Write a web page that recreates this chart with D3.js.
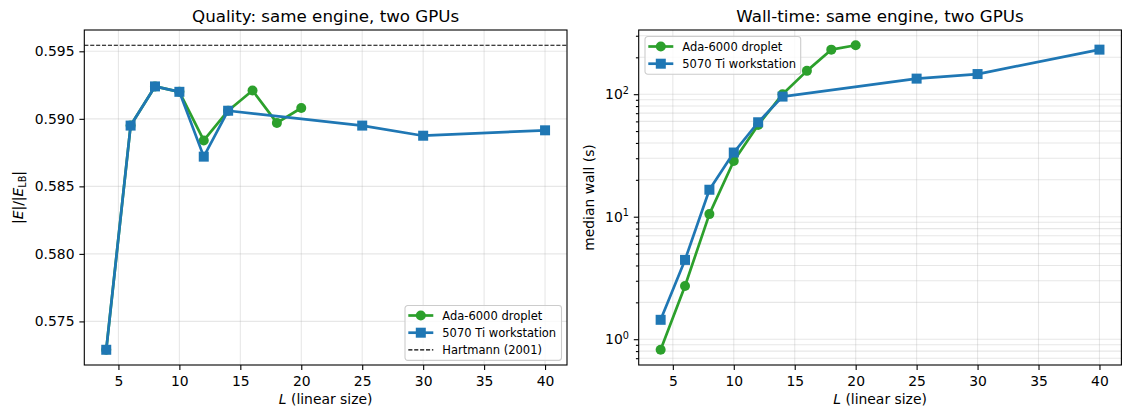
<!DOCTYPE html>
<html>
<head>
<meta charset="utf-8">
<script src="https://cdn.jsdelivr.net/npm/d3@7"></script>
<style>
  body { margin: 0; background: #fff; }
  svg { display: block; font-family: "DejaVu Sans", sans-serif; }
</style>
</head>
<body>
<div class="wrapper"></div>
<script>
// values
const sizesAda = [4, 6, 8, 10, 12, 14, 16, 18, 20];
const qualityAda = [0.5729, 0.5895, 0.5924, 0.5920, 0.5884, 0.5906, 0.5921, 0.5897, 0.5908];
const wallAda = [0.82, 2.72, 10.5, 28.5, 56, 100, 155, 231, 251];

const sizesWs = [4, 6, 8, 10, 12, 14, 25, 30, 40];
const qualityWs = [0.5729, 0.5895, 0.5924, 0.5920, 0.5872, 0.5906, 0.5895, 0.58875, 0.58915];
const wallWs = [1.44, 4.44, 16.6, 33.4, 59, 95.6, 134, 146, 231];

const hartmann = 0.59545;

const xTicks = [5, 10, 15, 20, 25, 30, 35, 40];
const qualityTicks = [0.575, 0.580, 0.585, 0.590, 0.595];
const wallTicks = [1, 10, 100];

const seriesNames = ["Ada-6000 droplet", "5070 Ti workstation"];
const hartmannName = "Hartmann (2001)";

const GREEN = "#2ca02c", BLUE = "#1f77b4";
const W = 1124, H = 410;
const FS = 13.9;

const svg = d3.select(".wrapper").append("svg")
  .attr("width", W).attr("height", H)
  .attr("viewBox", [0, 0, W, H]);

// matplotlib-ish 5% margins
const pad = (a, b) => [a - (b - a) * 0.05, b + (b - a) * 0.05];
const allSizes = sizesAda.concat(sizesWs);

const left = { x0: 84.3, x1: 567, y0: 30, y1: 365 };
const right = { x0: 638.7, x1: 1121.4, y0: 30, y1: 365 };

const xL = d3.scaleLinear().domain(pad(d3.min(allSizes), d3.max(allSizes))).range([left.x0, left.x1]);
const xR = d3.scaleLinear().domain(pad(d3.min(allSizes), d3.max(allSizes))).range([right.x0, right.x1]);

const qAll = qualityAda.concat(qualityWs, [hartmann]);
const yL = d3.scaleLinear().domain(pad(d3.min(qAll), d3.max(qAll))).range([left.y1, left.y0]);

const wAll = wallAda.concat(wallWs);
const logExt = pad(Math.log10(d3.min(wAll)), Math.log10(d3.max(wAll)));
const yR = d3.scaleLog().domain([10 ** logExt[0], 10 ** logExt[1]]).range([right.y1, right.y0]);

const gridStyle = (sel) => sel.attr("stroke", "#b0b0b0").attr("stroke-opacity", 0.3).attr("stroke-width", 1.1);

function drawGrid(p, x, yVals, y) {
  const g = svg.append("g");
  xTicks.forEach(t => {
    g.append("line").attr("x1", x(t)).attr("x2", x(t)).attr("y1", p.y0).attr("y2", p.y1).call(gridStyle);
  });
  yVals.forEach(t => {
    g.append("line").attr("x1", p.x0).attr("x2", p.x1).attr("y1", y(t)).attr("y2", y(t)).call(gridStyle);
  });
}

function drawSeries(x, y, xs, ys, color, marker) {
  const pts = xs.map((d, i) => [x(d), y(ys[i])]);
  svg.append("path")
    .attr("d", d3.line()(pts))
    .attr("fill", "none")
    .attr("stroke", color)
    .attr("stroke-width", 2.7)
    .attr("stroke-linejoin", "round");
  pts.forEach(([px, py]) => drawMarker(svg, px, py, color, marker));
}

function drawMarker(g, px, py, color, marker) {
  if (marker === "circle") {
    g.append("circle").attr("cx", px).attr("cy", py).attr("r", 5).attr("fill", color);
  } else {
    g.append("rect").attr("x", px - 5).attr("y", py - 5).attr("width", 10).attr("height", 10).attr("fill", color);
  }
}

function styleAxis(g) {
  g.select(".domain").remove();
  g.selectAll(".tick line").attr("stroke", "#000").attr("stroke-width", 1.1);
  g.selectAll(".tick text").attr("fill", "#000").attr("font-size", FS).attr("font-family", "DejaVu Sans");
}

function drawFrame(p) {
  svg.append("rect")
    .attr("x", p.x0).attr("y", p.y0)
    .attr("width", p.x1 - p.x0).attr("height", p.y1 - p.y0)
    .attr("fill", "none").attr("stroke", "#000").attr("stroke-width", 1.1);
}

function drawXAxis(p, x) {
  svg.append("g")
    .attr("transform", "translate(0," + p.y1 + ")")
    .call(d3.axisBottom(x).tickValues(xTicks).tickSize(4.9).tickPadding(6.6).tickFormat(d3.format("d")))
    .call(styleAxis);
  const lab = svg.append("text")
    .attr("x", (p.x0 + p.x1) / 2).attr("y", 403.5)
    .attr("text-anchor", "middle").attr("font-size", FS);
  lab.append("tspan").attr("font-style", "italic").text("L");
  lab.append("tspan").text(" (linear size)");
}

function drawTitle(p, txt) {
  svg.append("text")
    .attr("x", (p.x0 + p.x1) / 2).attr("y", 21.5)
    .attr("text-anchor", "middle").attr("font-size", 16.7)
    .text(txt);
}

function drawLegend(x0, y0, w, rows) {
  const g = svg.append("g").attr("transform", "translate(" + x0 + "," + y0 + ")");
  g.append("rect")
    .attr("width", w).attr("height", rows.length * 17.2 + 3.3)
    .attr("rx", 2.8)
    .attr("fill", "#fff").attr("fill-opacity", 0.8)
    .attr("stroke", "#cccccc").attr("stroke-width", 1.1);
  rows.forEach((r, i) => {
    const cy = 10 + i * 17.2;
    const ln = g.append("line")
      .attr("x1", 3.3).attr("x2", 28.3).attr("y1", cy).attr("y2", cy)
      .attr("stroke", r.color);
    if (r.dashed) {
      ln.attr("stroke-width", 1.1).attr("stroke-dasharray", "4.1,1.8");
    } else {
      ln.attr("stroke-width", 2.7);
      drawMarker(g, 15.8, cy, r.color, r.marker);
    }
    g.append("text")
      .attr("x", 37.3).attr("y", cy).attr("dy", "0.36em")
      .attr("font-size", 11.5).text(r.name);
  });
}

// ---------- left: quality ----------
drawGrid(left, xL, qualityTicks, yL);

svg.append("line")
  .attr("x1", left.x0).attr("x2", left.x1)
  .attr("y1", yL(hartmann)).attr("y2", yL(hartmann))
  .attr("stroke", "#000").attr("stroke-width", 1.1)
  .attr("stroke-dasharray", "4.1,1.8");

drawSeries(xL, yL, sizesAda, qualityAda, GREEN, "circle");
drawSeries(xL, yL, sizesWs, qualityWs, BLUE, "square");
drawFrame(left);
drawXAxis(left, xL);

svg.append("g")
  .attr("transform", "translate(" + left.x0 + ",0)")
  .call(d3.axisLeft(yL).tickValues(qualityTicks).tickSize(4.9).tickPadding(4.9).tickFormat(d3.format(".3f")))
  .call(styleAxis);

const yLab = svg.append("text")
  .attr("transform", "translate(22.5," + (left.y0 + left.y1) / 2 + ") rotate(-90)")
  .attr("text-anchor", "middle").attr("font-size", FS);
yLab.append("tspan").text("|");
yLab.append("tspan").attr("font-style", "italic").text("E");
yLab.append("tspan").text("|/|");
yLab.append("tspan").attr("font-style", "italic").text("E");
yLab.append("tspan").attr("font-size", 9.7).attr("dy", 3).text("LB");
yLab.append("tspan").attr("dy", -3).text("|");

drawTitle(left, "Quality: same engine, two GPUs");
drawLegend(405, 305.5, 156.5, [
  { name: seriesNames[0], color: GREEN, marker: "circle" },
  { name: seriesNames[1], color: BLUE, marker: "square" },
  { name: hartmannName, color: "#000", dashed: true }
]);

// ---------- right: wall time ----------
const minorVals = yR.ticks().filter(v => !wallTicks.includes(v));
drawGrid(right, xR, yR.ticks(), yR);

drawSeries(xR, yR, sizesAda, wallAda, GREEN, "circle");
drawSeries(xR, yR, sizesWs, wallWs, BLUE, "square");
drawFrame(right);
drawXAxis(right, xR);

svg.append("g")
  .attr("transform", "translate(" + right.x0 + ",0)")
  .call(d3.axisLeft(yR).tickValues(minorVals).tickSize(2.8).tickFormat(""))
  .call(styleAxis);

svg.append("g")
  .attr("transform", "translate(" + right.x0 + ",0)")
  .call(d3.axisLeft(yR).tickValues(wallTicks).tickSize(4.9).tickPadding(4.9).tickFormat(""))
  .call(styleAxis)
  .selectAll(".tick text")
  .each(function (d) {
    const t = d3.select(this);
    t.append("tspan").text("10");
    t.append("tspan").attr("font-size", 9.7).attr("dy", "-0.55em").text(Math.round(Math.log10(d)));
  });

svg.append("text")
  .attr("transform", "translate(594," + (right.y0 + right.y1) / 2 + ") rotate(-90)")
  .attr("text-anchor", "middle").attr("font-size", FS)
  .text("median wall (s)");

drawTitle(right, "Wall-time: same engine, two GPUs");
drawLegend(645, 36.5, 155.7, [
  { name: seriesNames[0], color: GREEN, marker: "circle" },
  { name: seriesNames[1], color: BLUE, marker: "square" }
]);
</script>
</body>
</html>
